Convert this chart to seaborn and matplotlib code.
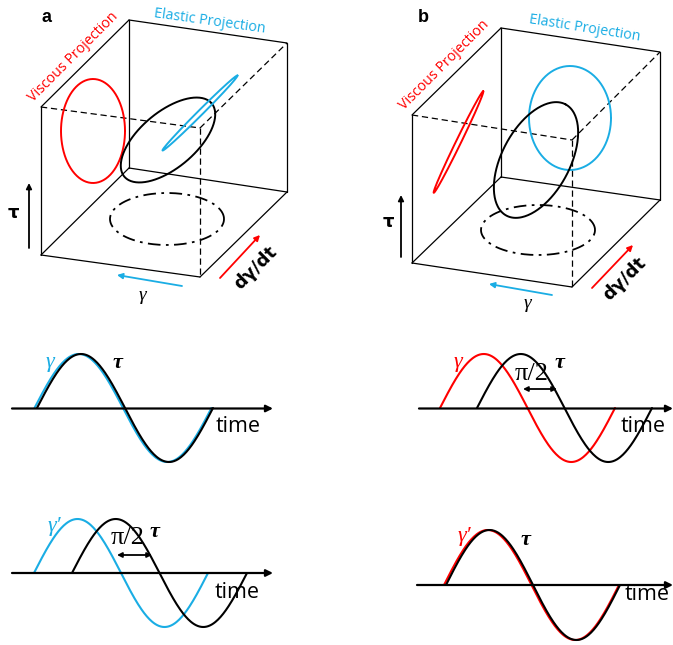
import numpy as np
import pandas as pd
import matplotlib
matplotlib.use("Agg")
import matplotlib.pyplot as plt
import seaborn as sns

sns.set_theme(style="white")
plt.rcParams['font.family'] = ['Open Sans', 'DejaVu Sans']
plt.rcParams['text.color'] = 'black'

RED = "#FF0000"
BLUE = "#1AADE4"
SERIF = ['Liberation Serif', 'DejaVu Serif']

# ---------------- data ----------------
# cube vertices (pixel positions) for panels a and b
cube_names = ["A", "B", "C", "D", "E", "F", "G", "H"]
cube_a_x = [41, 41, 200, 200, 129, 287, 129, 287]
cube_a_y = [107, 255, 128, 277, 20, 43, 168, 192]
cube_b_x = [412, 412, 572, 572, 501, 660, 501, 660]
cube_b_y = [115, 263, 140, 287, 28, 52, 177, 200]
solid_edges = [("A", "B"), ("A", "E"), ("E", "F"), ("F", "H"), ("E", "G"),
               ("G", "B"), ("G", "H"), ("B", "D"), ("D", "H")]
dashed_edges = [("A", "C"), ("C", "F"), ("C", "D")]

# ellipses: centre x, centre y, semi-axis a, semi-axis b, angle (deg)
ell_cx = [93, 168, 200, 167, 458.5, 570, 536, 538]
ell_cy = [131, 140, 113, 219, 142, 118, 160, 230]
ell_a = [32, 57, 53, 57, 56.5, 41, 63, 57]
ell_b = [52, 28, 2.5, 26, 2.5, 52, 34, 25]
ell_ang = [0, 40, 45, 0, 64, 0, 62, 0]
ell_col = [RED, "black", BLUE, "black", RED, BLUE, "black", "black"]
ell_ls = ["-", "-", "-", "-.", "-", "-", "-", "-."]

# waves: start x, period, amplitude, baseline y
wave_start = [34.5, 37, 34, 72, 440, 477, 444, 446]
wave_period = [177, 176, 174, 175, 175, 175, 175, 174]
wave_amp = [54, 54, 54, 54, 54, 54, 55, 55]
wave_base = [408, 408, 573, 573, 408, 408, 585, 585]
wave_col = [BLUE, "black", BLUE, "black", RED, "black", RED, "black"]

# time axes: x start, x end, y
taxis_x0 = [12, 12, 419, 417]
taxis_x1 = [273, 273, 673, 673]
taxis_y = [408.5, 573, 408.5, 585]

# ---------------- figure ----------------
fig = plt.figure(figsize=(6.73, 6.45), dpi=100)
ax = fig.add_axes([0, 0, 1, 1])
ax.set_xlim(0, 673)
ax.set_ylim(645, 0)
ax.axis("off")

def arrow(x0, y0, x1, y1, color, style="-|>", lw=1.3, ms=8):
    ax.annotate("", xy=(x1, y1), xytext=(x0, y0),
                arrowprops=dict(arrowstyle=style, color=color, lw=lw,
                                mutation_scale=ms, shrinkA=0, shrinkB=0))

# cubes
for cx_, cy_ in [(cube_a_x, cube_a_y), (cube_b_x, cube_b_y)]:
    pts = {n: (x, y) for n, x, y in zip(cube_names, cx_, cy_)}
    for p, q in solid_edges:
        ax.plot([pts[p][0], pts[q][0]], [pts[p][1], pts[q][1]],
                color="black", lw=0.9, solid_capstyle="round")
    for p, q in dashed_edges:
        ax.plot([pts[p][0], pts[q][0]], [pts[p][1], pts[q][1]],
                color="black", lw=0.9, dashes=(5, 3))

# ellipses
t = np.linspace(0, 2 * np.pi, 240)
for cx, cy, a, b, ang, col, ls in zip(ell_cx, ell_cy, ell_a, ell_b,
                                      ell_ang, ell_col, ell_ls):
    th = np.deg2rad(ang)
    xs = cx + a * np.cos(th) * np.cos(t) - b * np.sin(th) * np.sin(t)
    ys = cy - (a * np.sin(th) * np.cos(t) + b * np.cos(th) * np.sin(t))
    df = pd.DataFrame({"x": xs, "y": ys})
    if ls == "-.":
        ax.plot(xs, ys, color=col, lw=1.3, dashes=(7, 3, 1.5, 3))
    else:
        sns.lineplot(data=df, x="x", y="y", ax=ax, color=col, lw=1.4,
                     sort=False, estimator=None)

# cube arrows
arrow(29, 248, 29, 183, "black")
arrow(182, 286, 117, 275, BLUE)
arrow(220, 278, 260, 235, RED)
arrow(401, 257, 401, 195, "black")
arrow(552, 295, 489, 284, BLUE)
arrow(592, 288, 633, 245, RED)

# cube labels
ax.text(46, 17, "a", fontsize=13, fontweight="bold", family="Liberation Sans",
        ha="center", va="center")
ax.text(423, 18, "b", fontsize=13, fontweight="bold", family="Liberation Sans",
        ha="center", va="center")
for (x, y) in [(73, 57), (444, 65)]:
    ax.text(x, y, "Viscous Projection", color=RED, fontsize=10.3, rotation=45,
            ha="center", va="center", rotation_mode="anchor")
for (x, y, r) in [(210, 21, -8), (585, 28, -9)]:
    ax.text(x, y, "Elastic Projection", color=BLUE, fontsize=10.3, rotation=r,
            ha="center", va="center", rotation_mode="anchor")
for (x, y) in [(13, 213), (388, 222)]:
    ax.text(x, y, "τ", fontsize=13, fontweight="bold", family="DejaVu Sans",
            ha="center", va="center")
for (x, y) in [(142, 295), (527, 304)]:
    ax.text(x, y, "γ", fontsize=14, style="italic", family=SERIF,
            ha="center", va="center")
for (x, y) in [(256, 268), (625, 279)]:
    ax.text(x, y, "dγ/dt", fontsize=13, fontweight="bold", family="DejaVu Sans",
            rotation=45, ha="center", va="center", rotation_mode="anchor")

# time axes
for x0, x1, y in zip(taxis_x0, taxis_x1, taxis_y):
    arrow(x0, y, x1, y, "black", lw=1.6, ms=10)

# waves
for s, per, amp, base, col in zip(wave_start, wave_period, wave_amp,
                                  wave_base, wave_col):
    xs = np.linspace(s, s + per, 200)
    ys = base - amp * np.sin(2 * np.pi * (xs - s) / per)
    sns.lineplot(x=xs, y=ys, ax=ax, color=col, lw=1.5, sort=False,
                 estimator=None)

# wave labels
for (x, y) in [(238, 427), (237, 592), (643, 427), (647, 594)]:
    ax.text(x, y, "time", fontsize=15.5, ha="center", va="center")
ax.text(50, 362, "γ", color=BLUE, fontsize=16, style="italic", family=SERIF,
        ha="center", va="center")
ax.text(54, 527, "γ′", color=BLUE, fontsize=16, style="italic", family=SERIF,
        ha="center", va="center")
ax.text(458, 362, "γ", color=RED, fontsize=16, style="italic", family=SERIF,
        ha="center", va="center")
ax.text(464, 537, "γ′", color=RED, fontsize=16, style="italic", family=SERIF,
        ha="center", va="center")
for (x, y) in [(117, 363), (154, 532), (559, 363), (525, 540)]:
    ax.text(x, y, "τ", fontsize=16, fontweight="bold", style="italic",
            family=SERIF, ha="center", va="center")
for (x, y) in [(128, 538), (532, 374)]:
    ax.text(x, y, "π/2", fontsize=19, family=SERIF, ha="center", va="center")
arrow(117, 555, 152, 555, "black", style="<|-|>", lw=1.3, ms=7)
arrow(523, 389, 557, 389, "black", style="<|-|>", lw=1.3, ms=7)

fig.savefig("out.png", dpi=100)
